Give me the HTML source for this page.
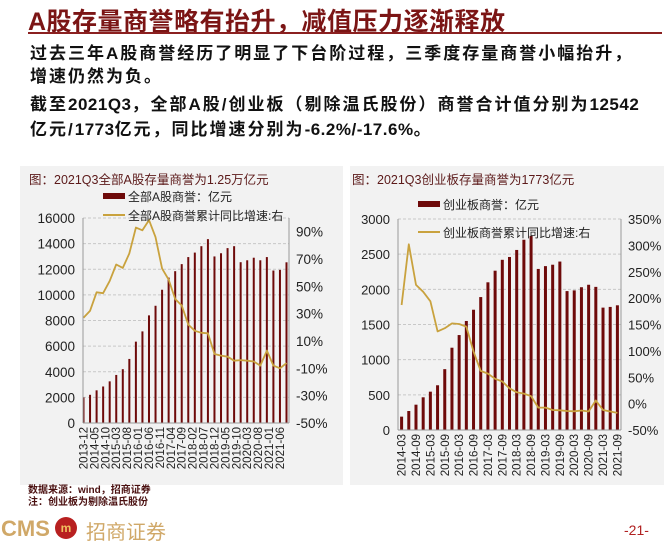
<!DOCTYPE html>
<html><head><meta charset="utf-8">
<style>
body{margin:0;width:669px;height:543px;background:#fff;position:relative;overflow:hidden;font-family:"Liberation Sans","Noto Sans CJK SC",sans-serif;}
.abs{position:absolute;white-space:nowrap;}
#title{left:28px;top:2px;font-size:25px;font-weight:bold;color:#7b1515;letter-spacing:0.5px;}
#rule{left:28px;top:32px;width:634px;height:2px;background:#8b2020;}
.body{left:30px;font-size:17px;font-weight:bold;color:#111;letter-spacing:2px;}
.num{letter-spacing:0.5px;}
.panel{background:#f2f2f2;top:166px;height:319px;}
svg{position:absolute;left:0;top:0;}
</style></head><body>
<div class="abs" id="title">A股存量商誉略有抬升，减值压力逐渐释放</div>
<div class="abs" id="rule"></div>
<div class="abs body" style="top:39px">过去三年A股商誉经历了明显了下台阶过程，三季度存量商誉小幅抬升，</div>
<div class="abs body" style="top:62px">增速仍然为负。</div>
<div class="abs body" style="top:90px">截至<span class="num">2021Q3</span>，全部A股/创业板（剔除温氏股份）商誉合计值分别为<span class="num">12542</span></div>
<div class="abs body" style="top:115px">亿元/<span class="num">1773</span>亿元，同比增速分别为<span class="num">-6.2%/-17.6%</span>。</div>
<div class="abs panel" style="left:20px;width:323px"></div>
<div class="abs panel" style="left:350px;width:314px"></div>
<div class="abs" style="left:28px;top:481px;font-size:10px;font-weight:bold;color:#4a1010">数据来源：wind，招商证券</div>
<div class="abs" style="left:28px;top:493px;font-size:10px;font-weight:bold;color:#4a1010">注：创业板为剔除温氏股份</div>
<div class="abs" style="left:1px;top:516px;font-size:22px;font-weight:bold;color:#d0a868">CMS</div>
<div class="abs" style="left:55px;top:517px;width:22px;height:22px;border-radius:50%;background:#b82020;color:#f0c060;font-size:12px;font-weight:bold;text-align:center;line-height:22px">m</div>
<div class="abs" style="left:86px;top:516px;font-size:20px;color:#d0a868">招商证券</div>
<div class="abs" style="left:624px;top:522px;font-size:14px;color:#b02020">-21-</div>
<svg id="chart" width="669" height="543"></svg>
<script>
const leftMonths=[0,3,6,9,12,15,18,21,24,27,30,33,36,39,42,45,48,51,54,57,60,63,66,69,72,75,78,81,84,87,90,93];
const leftBars=[2000,2200,2550,2850,3250,3750,4200,5000,6350,7150,8400,9150,10400,11350,11850,12400,12950,13300,13800,14350,13000,13250,13650,13800,12550,12700,12900,12700,12950,11900,11950,12542];
const leftLine=[27,32,45.6,45,54,66,63.5,74,93,91,98.5,86,63,55,40.7,36,22,17.5,16,15.6,0.5,-0.7,-1.5,-4.4,-4,-4.4,-5,-8,3,-8,-10,-6.2];
const leftLabels=["2013-12","2014-05","2014-10","2015-03","2015-08","2016-01","2016-06","2016-11","2017-04","2017-09","2018-02","2018-07","2018-12","2019-05","2019-10","2020-03","2020-08","2021-01","2021-06"];
const leftTicksL=[0,2000,4000,6000,8000,10000,12000,14000,16000];
const leftTicksR=[-50,-30,-10,10,30,50,70,90];
const rightCats=["2014-03","2014-06","2014-09","2014-12","2015-03","2015-06","2015-09","2015-12","2016-03","2016-06","2016-09","2016-12","2017-03","2017-06","2017-09","2017-12","2018-03","2018-06","2018-09","2018-12","2019-03","2019-06","2019-09","2019-12","2020-03","2020-06","2020-09","2020-12","2021-03","2021-06","2021-09"];
const rightBars=[190,270,360,465,545,636,865,1170,1350,1550,1710,1890,2100,2265,2420,2460,2560,2705,2760,2290,2330,2350,2395,1975,1985,2030,2065,2035,1740,1750,1773];
const rightLine=[187,302,225,212,194,137,143,152,151,146,99,62,57,47,42,29,21.5,19,14,-7.6,-7.6,-12,-12.7,-14,-14.5,-13,-15,6,-12,-15,-17.6];
const rightTicksL=[0,500,1000,1500,2000,2500,3000];
const rightTicksR=[-50,0,50,100,150,200,250,300,350];

const svg=document.getElementById('chart');
const NS='http://www.w3.org/2000/svg';
function mk(tag,attrs,parent,text){const e=document.createElementNS(NS,tag);for(const k in attrs)e.setAttribute(k,attrs[k]);if(text!==undefined)e.textContent=text;(parent||svg).appendChild(e);return e;}
const BAR='#6e0a0a',LINE='#c9a23e',TXT='#222';

function drawChart(o){
  const g=mk('g',{});
  
  
  const yL=v=>o.y1-(v-o.lmin)/(o.lmax-o.lmin)*(o.y1-o.y0);
  const yR=v=>o.y1-(v-o.rmin)/(o.rmax-o.rmin)*(o.y1-o.y0);
  o.ticksL.forEach(t=>{
    if(t>0){const gl=mk('line',{x1:o.x0,x2:o.x1,y1:yL(t),y2:yL(t),stroke:'#c8c8c8','stroke-dasharray':'3,2','stroke-width':1},g);
      }
    const tl=mk('text',{x:o.x0-8,y:yL(t)+5,'text-anchor':'end','font-size':o.fs,fill:TXT},g,t);
    
  });
  o.ticksR.forEach(t=>{
    const tl=mk('text',{x:o.x1+7,y:yR(t)+5,'font-size':o.fs,fill:TXT},g,t+'%');
    
  });
  o.bars.forEach((v,i)=>{const x=o.xp(i);
    const r=mk('rect',{x:x-o.bw/2,y:yL(v),width:o.bw,height:o.y1-yL(v),fill:BAR},g);
    });
  let d='';o.line.forEach((v,i)=>{d+=(i?'L':'M')+o.xp(i).toFixed(1)+','+yR(v).toFixed(1);});
  const p=mk('path',{d:d,fill:'none',stroke:LINE,'stroke-width':1.8,'stroke-linejoin':'round'},g);
  
  [[o.x0,o.x0],[o.x1,o.x1]].forEach(a=>{const l=mk('line',{x1:a[0],x2:a[1],y1:o.y0,y2:o.y1,stroke:'#999'},g);
    });
  const xa=mk('line',{x1:o.x0,x2:o.x1,y1:o.y1,y2:o.y1,stroke:'#999'},g);
  
  o.labels.forEach(([lab,x])=>{
    const t=mk('text',{x:0,y:0,'font-size':11.5,fill:TXT,'text-anchor':'end',transform:`translate(${x+4},${o.y1+4}) rotate(-90)`},g,lab);
    
  });
  const tt=mk('text',{x:o.tx,y:184,'font-size':12.5,fill:'#5c1a1a'},g,o.title);
  
  const ls=mk('rect',{x:o.lgx,y:o.lgy1-3,width:22,height:6,fill:BAR},g);
  
  const lt=mk('text',{x:o.lgx+25,y:o.lgy1+5,'font-size':12,fill:TXT},g,o.leg1);
  
  const ll=mk('line',{x1:o.lgx,x2:o.lgx+22,y1:o.lgy2,y2:o.lgy2,stroke:LINE,'stroke-width':2},g);
  
  const lt2=mk('text',{x:o.lgx+25,y:o.lgy2+5,'font-size':12,fill:TXT},g,o.leg2);
  
}
const lx=m=>83.5+m*(203/93);
drawChart({name:'a-share-goodwill-chart',x0:83,x1:289,y0:218,y1:423,lmin:0,lmax:16000,rmin:-50,rmax:100,
  ticksL:leftTicksL,ticksR:leftTicksR,bars:leftBars,line:leftLine,xp:i=>lx(leftMonths[i]),bw:2,fs:13.5,
  labels:leftLabels.map((l,i)=>[l,lx(i*5)]),title:'图：2021Q3全部A股存量商誉为1.25万亿元',tx:29,
  lgx:103,lgy1:196,lgy2:215,leg1:'全部A股商誉：亿元',leg2:'全部A股商誉累计同比增速:右'});
const rx=i=>398+(i+0.5)*223/31;
drawChart({name:'chinext-goodwill-chart',x0:398,x1:621,y0:219,y1:430,lmin:0,lmax:3000,rmin:-50,rmax:350,
  ticksL:rightTicksL,ticksR:rightTicksR,bars:rightBars,line:rightLine,xp:rx,bw:3,fs:13,
  labels:rightCats.map((l,i)=>[l,rx(i)]).filter((a,i)=>i%2===0),title:'图：2021Q3创业板存量商誉为1773亿元',tx:352,
  lgx:418,lgy1:204,lgy2:232,leg1:'创业板商誉：亿元',leg2:'创业板商誉累计同比增速:右'});
</script>
</body></html>
